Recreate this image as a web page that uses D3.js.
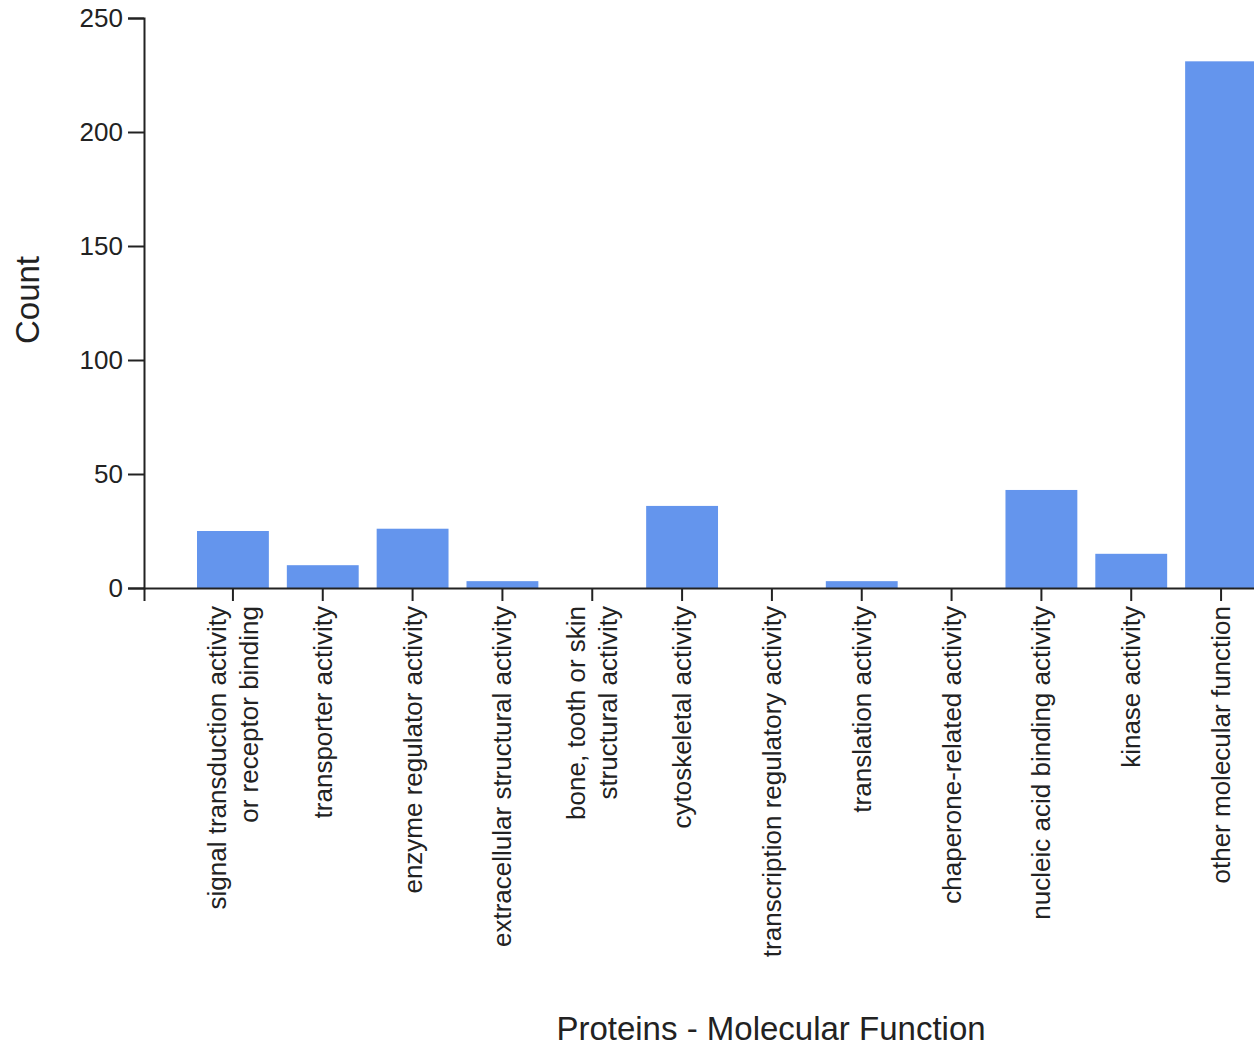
<!DOCTYPE html>
<html>
<head>
<meta charset="utf-8">
<script src="https://d3js.org/d3.v7.min.js"></script>
<style>
body { margin: 0; background: #fff; }
svg { display: block; font-family: "Liberation Sans", Arial, sans-serif; }
.axis path, .axis line { stroke: #222; stroke-width: 2px; }
.axis text { fill: #222; font-size: 26px; }
.bar { fill: cornflowerblue; }
.title { fill: #222; font-size: 33px; }
</style>
</head>
<body>
<svg id="chart" width="1254" height="1048"></svg>
<script>
  // data
  var categories = [
    ["signal transduction activity", "or receptor binding"],
    ["transporter activity"],
    ["enzyme regulator activity"],
    ["extracellular structural activity"],
    ["bone, tooth or skin", "structural activity"],
    ["cytoskeletal activity"],
    ["transcription regulatory activity"],
    ["translation activity"],
    ["chaperone-related activity"],
    ["nucleic acid binding activity"],
    ["kinase activity"],
    ["other molecular function"]
  ];
  var counts = [25, 10, 26, 3, 0, 36, 0, 3, 0, 43, 15, 231];
  var yTicks = [0, 50, 100, 150, 200, 250];

  var names = categories.map(function(c) { return c.join(" "); });

  var margin = {top: 18, left: 144},
      height = 570,
      width = 1166;

  var svg = d3.select("#chart");
  var g = svg.append("g")
      .attr("transform", "translate(" + margin.left + "," + margin.top + ")");

  var x = d3.scaleBand()
      .domain(names)
      .range([0, width])
      .paddingInner(0.2)
      .paddingOuter(0.59);

  var y = d3.scaleLinear()
      .domain([0, 250])
      .range([height, 0]);

  g.selectAll(".bar")
      .data(counts)
    .enter().append("rect")
      .attr("class", "bar")
      .attr("x", function(d, i) { return x(names[i]); })
      .attr("y", function(d) { return y(d); })
      .attr("width", x.bandwidth())
      .attr("height", function(d) { return height - y(d); });

  // x axis
  var xAxis = g.append("g")
      .attr("class", "axis")
      .attr("transform", "translate(0," + height + ")")
      .call(d3.axisBottom(x).tickSize(13).tickSizeOuter(13).tickFormat(""));

  xAxis.selectAll(".tick").each(function(d, i) {
    var lines = categories[i];
    var t = d3.select(this).append("text")
        .attr("transform", "translate(0,18) rotate(-90)")
        .attr("text-anchor", "end")
        .attr("fill", "#222");
    var off = -(lines.length - 1) * 16;
    lines.forEach(function(line, j) {
      t.append("tspan")
          .attr("x", 0)
          .attr("y", off + j * 32 + 9)
          .text(line);
    });
  });

  // y axis
  g.append("g")
      .attr("class", "axis")
      .call(d3.axisLeft(y).tickValues(yTicks).tickSize(16).tickPadding(5));

  svg.append("text")
      .attr("class", "title")
      .attr("transform", "translate(39,300) rotate(-90)")
      .attr("text-anchor", "middle")
      .text("Count");

  svg.append("text")
      .attr("class", "title")
      .attr("x", 771)
      .attr("y", 1040)
      .attr("text-anchor", "middle")
      .text("Proteins - Molecular Function");
</script>
</body>
</html>
